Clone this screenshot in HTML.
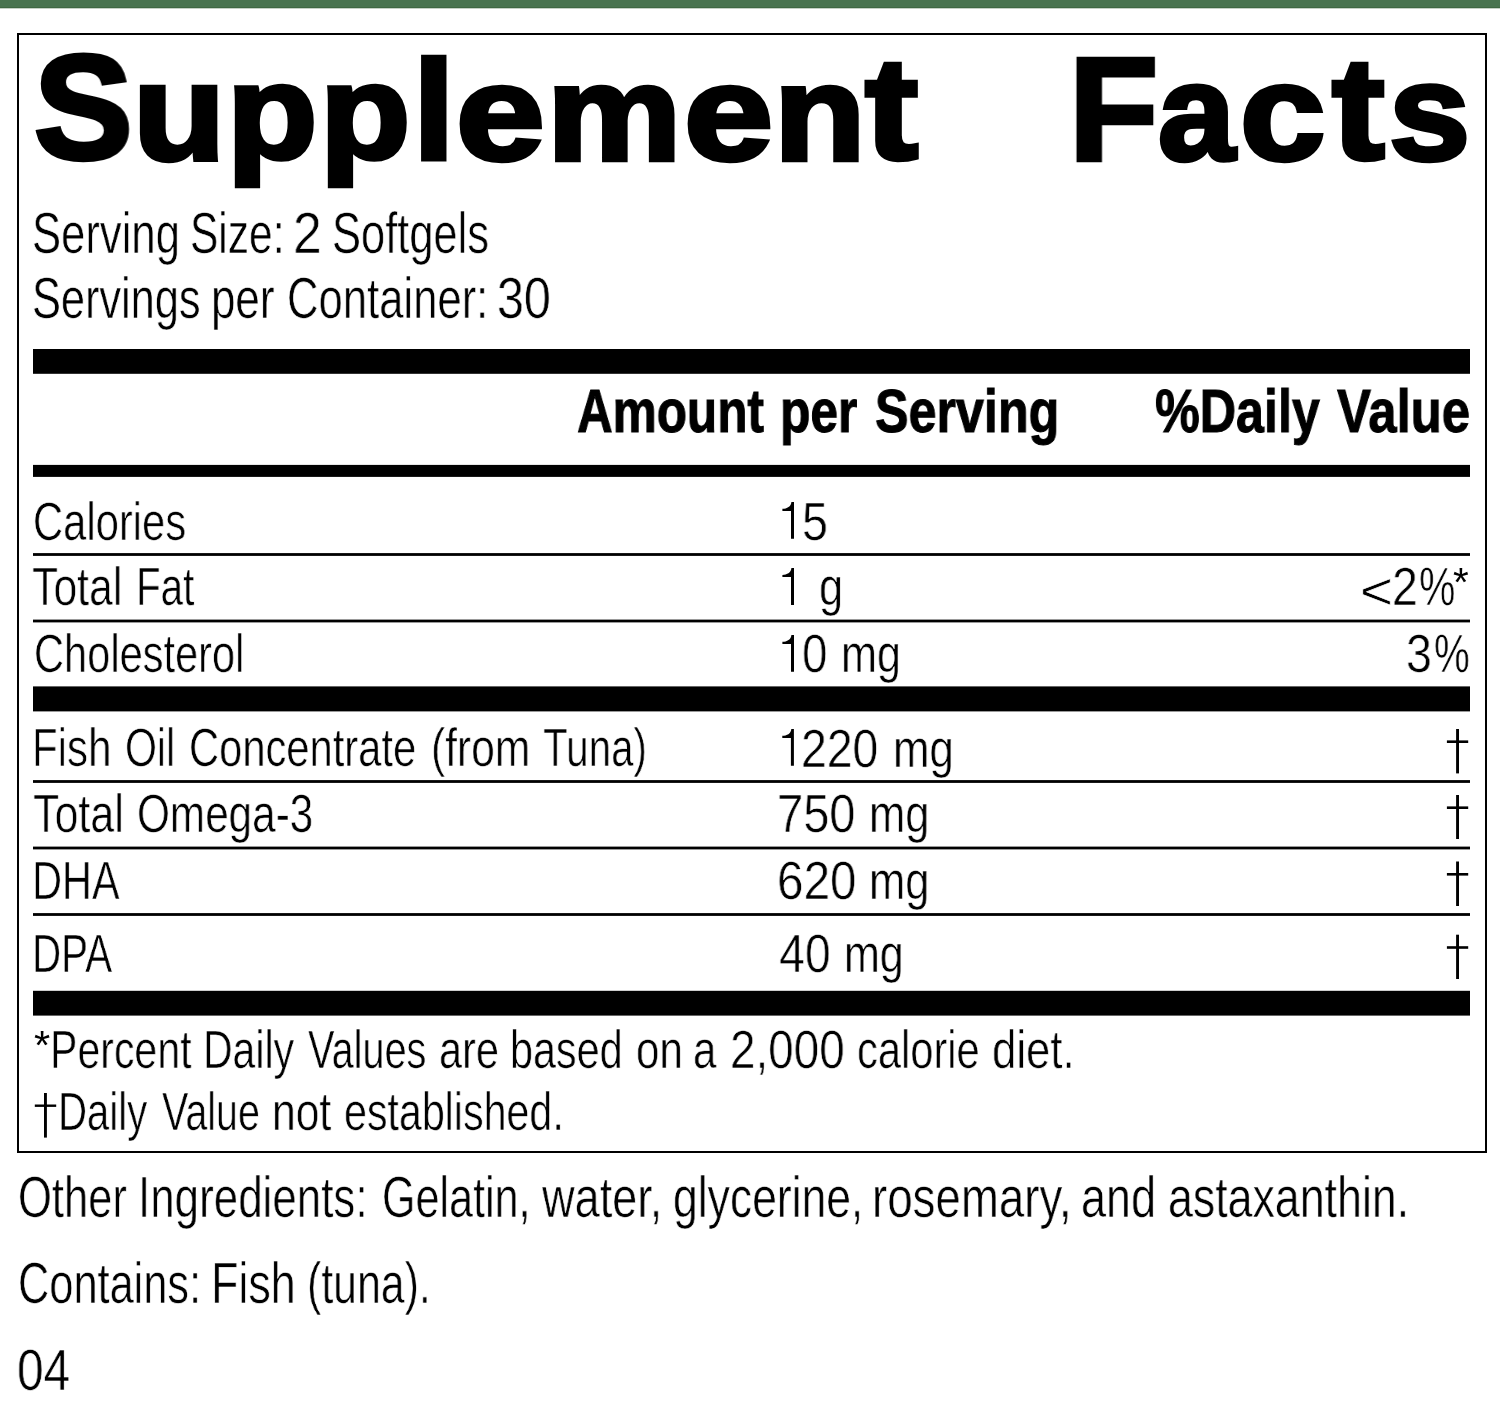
<!DOCTYPE html>
<html><head><meta charset="utf-8"><title>Supplement Facts</title>
<style>
html,body{margin:0;padding:0;background:#fff;}
body{width:1500px;height:1410px;position:relative;overflow:hidden;font-family:"Liberation Sans",sans-serif;color:#000;}
.t{position:absolute;white-space:nowrap;line-height:0;height:0;transform-origin:0 0;will-change:transform;}
.r{-webkit-text-stroke:0.6px #fff;}
.b{font-weight:bold;}
.hb{-webkit-text-stroke:1px #000;}
.ns{-webkit-text-stroke:0;}
.tb{-webkit-text-stroke:4.5px #000;}
svg{position:absolute;left:0;top:0;}
</style></head><body>
<svg width="1500" height="1410" viewBox="0 0 1500 1410">
<rect x="0" y="0" width="1500" height="7" fill="#48734f"/><rect x="0" y="7" width="1500" height="1.3" fill="#3e6842"/>
<rect x="18" y="34" width="1468" height="1118" fill="none" stroke="#000" stroke-width="2"/>
<g fill="#000">
<rect x="33" y="349" width="1437" height="24.8"/>
<rect x="33" y="464.9" width="1437" height="12"/>
<rect x="33" y="553.1" width="1437" height="2.8"/>
<rect x="33" y="619.6" width="1437" height="2.8"/>
<rect x="33" y="686.4" width="1437" height="25"/>
<rect x="33" y="780.1" width="1437" height="2.8"/>
<rect x="33" y="846.6" width="1437" height="2.8"/>
<rect x="33" y="913.1" width="1437" height="2.8"/>
<rect x="33" y="990.8" width="1437" height="24.8"/>
</g>
<g fill="#000">
<rect x="1456.1" y="729" width="2.9" height="44.4"/><rect x="1446.9" y="740.4" width="21.3" height="2.6"/>
<rect x="1456.1" y="795" width="2.9" height="44.0"/><rect x="1446.9" y="806.4" width="21.3" height="2.6"/>
<rect x="1456.1" y="861.5" width="2.9" height="44.5"/><rect x="1446.9" y="873" width="21.3" height="2.6"/>
<rect x="1456.1" y="934.7" width="2.9" height="44.3"/><rect x="1446.9" y="946.2" width="21.3" height="2.6"/>
<rect x="44" y="1093" width="2.9" height="44.6"/><rect x="34.8" y="1104.5" width="21.4" height="2.4"/>
<path d="M791.0 538.8H794.0V502.0H791.4C791.2 506.6 786.9 508.8 782.4 508.8V511.0H791.0Z"/>
<path d="M791.0 604.9H794.0V568.1H791.4C791.2 572.7 786.9 574.9 782.4 574.9V577.1H791.0Z"/>
<path d="M791.0 671.8H794.0V635.0H791.4C791.2 639.6 786.9 641.8 782.4 641.8V644.0H791.0Z"/>
<path d="M790.9 765.8H793.9V728.9H791.3C791.1 733.5 786.8 735.7 782.3 735.7V737.9H790.9Z"/>
</g>
</svg>
<div class="t b tb" style="left:33.99px;top:108.39px;font-size:148.30px;transform:scaleX(0.9962)">S</div>
<div class="t b tb" style="left:132.61px;top:112.56px;font-size:136.60px;transform:scaleX(1.1070)">u</div>
<div class="t b tb" style="left:226.75px;top:111.94px;font-size:133.19px;transform:scaleX(1.1101)">p</div>
<div class="t b tb" style="left:319.75px;top:111.94px;font-size:133.19px;transform:scaleX(1.1101)">p</div>
<div class="t b tb" style="left:412.94px;top:111.19px;font-size:140.08px;transform:scaleX(1.0709)">l</div>
<div class="t b tb" style="left:455.70px;top:112.58px;font-size:135.99px;transform:scaleX(1.1743)">e</div>
<div class="t b tb" style="left:546.85px;top:112.52px;font-size:135.36px;transform:scaleX(1.1159)">m</div>
<div class="t b tb" style="left:683.69px;top:112.58px;font-size:135.99px;transform:scaleX(1.1786)">e</div>
<div class="t b tb" style="left:773.62px;top:112.52px;font-size:135.36px;transform:scaleX(1.1064)">n</div>
<div class="t b tb" style="left:864.53px;top:108.89px;font-size:145.05px;transform:scaleX(1.1023)">t</div>
<div class="t b tb" style="left:1068.68px;top:108.70px;font-size:147.24px;transform:scaleX(0.9899)">F</div>
<div class="t b tb" style="left:1157.61px;top:112.76px;font-size:137.45px;transform:scaleX(1.0079)">a</div>
<div class="t b tb" style="left:1239.92px;top:112.76px;font-size:137.45px;transform:scaleX(1.1154)">c</div>
<div class="t b tb" style="left:1331.53px;top:108.90px;font-size:144.75px;transform:scaleX(1.0942)">t</div>
<div class="t b tb" style="left:1389.06px;top:112.80px;font-size:137.32px;transform:scaleX(1.0623)">s</div>
<div class="t r" style="left:31.92px;top:232.82px;font-size:58.2px;transform:scaleX(0.7492)">Serving</div>
<div class="t r" style="left:189.72px;top:232.82px;font-size:58.2px;transform:scaleX(0.7299)">Size:</div>
<div class="t r" style="left:292.59px;top:232.82px;font-size:58.2px;transform:scaleX(0.8883)">2</div>
<div class="t r" style="left:331.89px;top:232.82px;font-size:58.2px;transform:scaleX(0.7466)">Softgels</div>
<div class="t r" style="left:31.93px;top:298.22px;font-size:58.2px;transform:scaleX(0.7442)">Servings</div>
<div class="t r" style="left:211.18px;top:298.22px;font-size:58.2px;transform:scaleX(0.7539)">per</div>
<div class="t r" style="left:287.49px;top:298.22px;font-size:58.2px;transform:scaleX(0.7498)">Container:</div>
<div class="t r" style="left:496.59px;top:298.22px;font-size:58.2px;transform:scaleX(0.8323)">30</div>
<div class="t b hb" style="left:577.13px;top:410.96px;font-size:60.7px;transform:scaleX(0.8155)">Amount</div>
<div class="t b hb" style="left:779.73px;top:410.96px;font-size:60.7px;transform:scaleX(0.8196)">per</div>
<div class="t b hb" style="left:875.15px;top:410.96px;font-size:60.7px;transform:scaleX(0.8279)">Serving</div>
<div class="t b hb" style="left:1154.61px;top:410.96px;font-size:60.7px;transform:scaleX(0.8284)">%Daily</div>
<div class="t b hb" style="left:1337.40px;top:410.96px;font-size:60.7px;transform:scaleX(0.8393)">Value</div>
<div class="t r" style="left:32.61px;top:520.65px;font-size:53.8px;transform:scaleX(0.7758)">Calories</div>
<div class="t r" style="left:801.51px;top:520.65px;font-size:53.8px;transform:scaleX(0.8673)">5</div>
<div class="t r" style="left:31.83px;top:586.35px;font-size:53.8px;transform:scaleX(0.7944)">Total</div>
<div class="t r" style="left:135.94px;top:586.35px;font-size:53.8px;transform:scaleX(0.7505)">Fat</div>
<div class="t r" style="left:818.77px;top:586.35px;font-size:53.8px;transform:scaleX(0.8002)">g</div>
<div class="t r" style="left:1359.73px;top:591.24px;font-size:51.8px;transform:scaleX(1.0895)">&lt;</div>
<div class="t r" style="left:1391.51px;top:586.35px;font-size:53.8px;transform:scaleX(0.8622)">2</div>
<div class="t r" style="left:1419.35px;top:586.35px;font-size:53.8px;transform:scaleX(0.7612)">%</div>
<div class="t" style="left:1453.40px;top:581.63px;font-size:40px;transform:scaleX(1.0101)">*</div>
<div class="t r" style="left:33.62px;top:653.35px;font-size:53.8px;transform:scaleX(0.7729)">Cholesterol</div>
<div class="t r" style="left:801.57px;top:653.35px;font-size:53.8px;transform:scaleX(0.8524)">0</div>
<div class="t r" style="left:841.32px;top:653.35px;font-size:53.8px;transform:scaleX(0.8013)">mg</div>
<div class="t r" style="left:1406.34px;top:653.35px;font-size:53.8px;transform:scaleX(0.8630)">3</div>
<div class="t r" style="left:1433.52px;top:653.35px;font-size:53.8px;transform:scaleX(0.7481)">%</div>
<div class="t r" style="left:31.81px;top:747.35px;font-size:53.8px;transform:scaleX(0.7810)">Fish</div>
<div class="t r" style="left:124.92px;top:747.35px;font-size:53.8px;transform:scaleX(0.7624)">Oil</div>
<div class="t r" style="left:188.59px;top:747.35px;font-size:53.8px;transform:scaleX(0.7752)">Concentrate</div>
<div class="t r" style="left:430.99px;top:747.35px;font-size:53.8px;transform:scaleX(0.7902)">(from</div>
<div class="t r" style="left:543.34px;top:747.35px;font-size:53.8px;transform:scaleX(0.7505)">Tuna)</div>
<div class="t r" style="left:800.84px;top:747.75px;font-size:53.8px;transform:scaleX(0.8615)">220</div>
<div class="t r" style="left:892.68px;top:747.75px;font-size:53.8px;transform:scaleX(0.8130)">mg</div>
<div class="t r" style="left:32.86px;top:813.15px;font-size:53.8px;transform:scaleX(0.7985)">Total</div>
<div class="t r" style="left:136.79px;top:813.15px;font-size:53.8px;transform:scaleX(0.7858)">Omega-3</div>
<div class="t r" style="left:777.21px;top:813.35px;font-size:53.8px;transform:scaleX(0.8749)">750</div>
<div class="t r" style="left:868.94px;top:813.35px;font-size:53.8px;transform:scaleX(0.8086)">mg</div>
<div class="t r" style="left:32.00px;top:879.75px;font-size:53.8px;transform:scaleX(0.7710)">DHA</div>
<div class="t r" style="left:777.40px;top:880.35px;font-size:53.8px;transform:scaleX(0.8858)">620</div>
<div class="t r" style="left:868.94px;top:880.35px;font-size:53.8px;transform:scaleX(0.8086)">mg</div>
<div class="t r" style="left:31.95px;top:952.95px;font-size:53.8px;transform:scaleX(0.7512)">DPA</div>
<div class="t r" style="left:779.24px;top:953.35px;font-size:53.8px;transform:scaleX(0.8629)">40</div>
<div class="t r" style="left:843.91px;top:953.35px;font-size:53.8px;transform:scaleX(0.7977)">mg</div>
<div class="t" style="left:34.11px;top:1044.53px;font-size:40px;transform:scaleX(1.0392)">*</div>
<div class="t r" style="left:50.40px;top:1049.35px;font-size:53.8px;transform:scaleX(0.7635)">Percent</div>
<div class="t r" style="left:203.41px;top:1049.35px;font-size:53.8px;transform:scaleX(0.7606)">Daily</div>
<div class="t r" style="left:308.27px;top:1049.35px;font-size:53.8px;transform:scaleX(0.7372)">Values</div>
<div class="t r" style="left:438.64px;top:1049.35px;font-size:53.8px;transform:scaleX(0.7714)">are</div>
<div class="t r" style="left:510.19px;top:1049.35px;font-size:53.8px;transform:scaleX(0.7677)">based</div>
<div class="t r" style="left:635.63px;top:1049.35px;font-size:53.8px;transform:scaleX(0.7820)">on</div>
<div class="t r" style="left:693.29px;top:1049.35px;font-size:53.8px;transform:scaleX(0.7830)">a</div>
<div class="t r" style="left:730.21px;top:1049.35px;font-size:53.8px;transform:scaleX(0.8518)">2,000</div>
<div class="t r" style="left:856.68px;top:1049.35px;font-size:53.8px;transform:scaleX(0.7742)">calorie</div>
<div class="t r" style="left:991.72px;top:1049.35px;font-size:53.8px;transform:scaleX(0.8131)">diet.</div>
<div class="t r" style="left:58.40px;top:1111.35px;font-size:53.8px;transform:scaleX(0.7453)">Daily</div>
<div class="t r" style="left:162.26px;top:1111.35px;font-size:53.8px;transform:scaleX(0.7322)">Value</div>
<div class="t r" style="left:271.91px;top:1111.35px;font-size:53.8px;transform:scaleX(0.7919)">not</div>
<div class="t r" style="left:344.12px;top:1111.35px;font-size:53.8px;transform:scaleX(0.7652)">established.</div>
<div class="t r" style="left:17.72px;top:1196.82px;font-size:58.2px;transform:scaleX(0.7480)">Other</div>
<div class="t r" style="left:137.72px;top:1196.82px;font-size:58.2px;transform:scaleX(0.7548)">Ingredients:</div>
<div class="t r" style="left:381.63px;top:1196.82px;font-size:58.2px;transform:scaleX(0.7406)">Gelatin,</div>
<div class="t r" style="left:542.27px;top:1196.82px;font-size:58.2px;transform:scaleX(0.7752)">water,</div>
<div class="t r" style="left:673.00px;top:1196.82px;font-size:58.2px;transform:scaleX(0.7640)">glycerine,</div>
<div class="t r" style="left:871.94px;top:1196.82px;font-size:58.2px;transform:scaleX(0.7845)">rosemary,</div>
<div class="t r" style="left:1081.40px;top:1196.82px;font-size:58.2px;transform:scaleX(0.7722)">and</div>
<div class="t r" style="left:1167.90px;top:1196.82px;font-size:58.2px;transform:scaleX(0.7684)">astaxanthin.</div>
<div class="t r" style="left:17.52px;top:1282.62px;font-size:58.2px;transform:scaleX(0.7446)">Contains:</div>
<div class="t r" style="left:211.15px;top:1282.62px;font-size:58.2px;transform:scaleX(0.7698)">Fish</div>
<div class="t r" style="left:307.24px;top:1282.62px;font-size:58.2px;transform:scaleX(0.7359)">(tuna).</div>
<div class="t r" style="left:17.20px;top:1369.82px;font-size:58.2px;transform:scaleX(0.8208)">04</div>
</body></html>
